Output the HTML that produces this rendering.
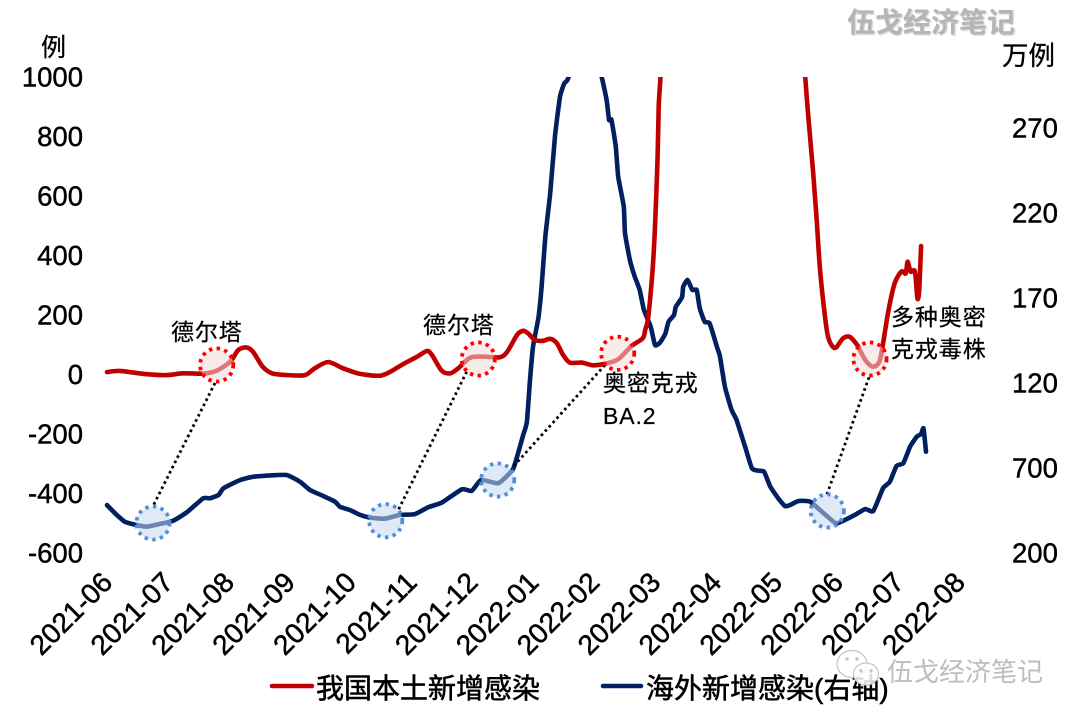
<!DOCTYPE html>
<html lang="zh-CN">
<head>
<meta charset="utf-8">
<title>我国本土与海外新增感染</title>
<style>
html,body{margin:0;padding:0;background:#fff;width:1080px;height:720px;overflow:hidden}
svg{display:block}
text{font-family:"Liberation Sans","Noto Sans CJK SC",sans-serif;fill:#000}
.tick{font-size:27.5px;stroke:#000;stroke-width:.45px}
.cat{font-size:28px;stroke:#000;stroke-width:.5px}
.note{font-size:23px;letter-spacing:.9px;stroke:#000;stroke-width:.25px}
.legend{font-size:28px;stroke:#000;stroke-width:.55px}
.unit{stroke:#000;stroke-width:.3px}
</style>
</head>
<body>
<svg id="chart" xmlns="http://www.w3.org/2000/svg" width="1080" height="720" viewBox="0 0 1080 720">
  <defs>
    <clipPath id="plot-clip"><rect x="0" y="77" width="1080" height="643"/></clipPath>
    <filter id="soft" x="-10%" y="-30%" width="120%" height="160%"><feGaussianBlur stdDeviation="0.9"/></filter>
  </defs>
  <g id="x-axis"></g>
  <g id="y-left"></g>
  <g id="y-right"></g>
  <text class="unit" x="41" y="56" font-size="25">例</text>
  <text class="unit" x="1002" y="65" font-size="26.5">万例</text>

  <g id="series" clip-path="url(#plot-clip)"></g>

  <g fill="none" stroke="#000" stroke-width="2.8" stroke-dasharray="2.6 3.2">
    <line x1="215" y1="383" x2="152.7" y2="506.7"/>
    <line x1="466.7" y1="371.7" x2="398.3" y2="510"/>
    <line x1="605" y1="365" x2="511.7" y2="468.3"/>
    <line x1="869" y1="377.3" x2="826.7" y2="495"/>
  </g>
  <g fill="#f2dcdb" fill-opacity=".55" stroke="#ff0000" stroke-width="3.8" stroke-dasharray="3.4 4.4">
    <circle cx="216.7" cy="365" r="16.6"/>
    <circle cx="478.3" cy="359" r="16.6"/>
    <circle cx="617.7" cy="353.3" r="16.6"/>
    <circle cx="870" cy="359" r="16.6"/>
  </g>
  <g fill="#c6d9f1" fill-opacity=".55" stroke="#4f8fdc" stroke-width="3.8" stroke-dasharray="3.4 4.4">
    <circle cx="153" cy="523" r="16.6"/>
    <circle cx="385.7" cy="520.7" r="16.6"/>
    <circle cx="497.7" cy="480" r="16.6"/>
    <circle cx="827.3" cy="511" r="16.6"/>
  </g>

  <text class="note" x="171" y="340">德尔塔</text>
  <text class="note" x="423" y="333">德尔塔</text>
  <text class="note" x="603" y="391">奥密克戎</text>
  <text class="note" x="603" y="424">BA.2</text>
  <text class="note" x="891" y="325">多种奥密</text>
  <text class="note" x="891" y="357">克戎毒株</text>

  <g>
    <line x1="272" y1="686" x2="312" y2="686" stroke="#c00000" stroke-width="4.5" stroke-linecap="round"/>
    <text class="legend" x="316" y="698">我国本土新增感染</text>
    <line x1="603" y1="686" x2="641" y2="686" stroke="#002060" stroke-width="4.5" stroke-linecap="round"/>
    <text class="legend" x="646" y="698">海外新增感染(右轴)</text>
  </g>

  <g>
    <text x="848" y="33" font-size="28" font-weight="700" style="fill:#999" opacity=".55" filter="url(#soft)">伍戈经济笔记</text>
    <text x="847" y="32" font-size="28" font-weight="700" style="fill:#b5b5b5">伍戈经济笔记</text>
  </g>

  <g>
    <g fill="#fff" fill-opacity=".85" stroke="#c4c4c4" stroke-width="1.2">
      <ellipse cx="852" cy="664" rx="15" ry="13.5"/>
      <ellipse cx="866" cy="674" rx="12.5" ry="11"/>
      <circle cx="847" cy="659" r="1.2" fill="#c4c4c4"/><circle cx="857" cy="659" r="1.2" fill="#c4c4c4"/>
      <circle cx="861" cy="671" r="1.1" fill="#c4c4c4"/><circle cx="871" cy="671" r="1.1" fill="#c4c4c4"/>
    </g>
    <text x="887" y="681" font-size="26" style="fill:#bdbdbd">伍戈经济笔记</text>
  </g>
</svg>
<script>
const monthLabels = ["2021-06","2021-07","2021-08","2021-09","2021-10","2021-11","2021-12","2022-01","2022-02","2022-03","2022-04","2022-05","2022-06","2022-07","2022-08"];
const leftTickValues = [-600,-400,-200,0,200,400,600,800,1000];
const rightTickValues = [200,700,1200,1700,2200,2700];
const rightTickLabels = ["200","700","120","170","220","270"];

const domesticMonths = [0,.21,.65,.98,1.24,1.57,1.79,2.01,2.14,2.27,2.38,2.54,2.69,2.94,3.23,3.39,3.61,3.85,4.13,4.45,4.62,4.83,5.06,5.22,5.30,5.46,5.60,5.73,5.92,6.13,6.41,6.53,6.69,6.79,6.87,6.98,7.11,7.23,7.34,7.44,7.55,7.75,7.93,8.16,8.34,8.56,8.74,8.78,8.83,8.90,8.94,8.98,9.00,9.03,9.10,9.20,9.50,10.4,11,11.20,11.32,11.39,11.44,11.52,11.58,11.63,11.70,11.76,11.84,11.90,12.01,12.12,12.26,12.28,12.39,12.50,12.60,12.66,12.75,12.85,12.96,13.03,13.06,13.11,13.18,13.22,13.25,13.28];
const domesticCases = [8,12,1,-2,4,3,13,43,82,91,77,26,4,-2,-2,21,42,21,2,-4,9,35,60,79,66,13,4,21,56,60,58,77,133,147,138,116,113,120,105,66,40,40,31,38,51,96,122,150,194,351,497,721,900,1001,1250,1700,4000,25000,4000,1600,1190,1001,867,677,509,358,217,129,93,92,122,126,93,82,43,26,43,105,217,307,346,340,379,346,346,256,284,432];

const overseasMonths = [0,.13,.29,.48,.65,.86,1.08,1.30,1.57,1.68,1.82,1.90,2.17,2.39,2.61,2.93,3.15,3.31,3.53,3.72,3.80,3.96,4.13,4.29,4.53,4.78,5.02,5.24,5.46,5.79,5.95,6.10,6.36,6.44,6.63,6.79,6.85,6.90,6.95,7.04,7.09,7.15,7.23,7.31,7.39,7.46,7.53,7.80,8.07,8.15,8.19,8.23,8.30,8.34,8.43,8.45,8.53,8.61,8.69,8.76,8.87,8.94,9.02,9.11,9.16,9.25,9.28,9.38,9.40,9.47,9.55,9.62,9.67,9.75,9.83,9.95,10.0,10.08,10.19,10.27,10.41,10.52,10.63,10.72,10.82,10.95,11.06,11.14,11.28,11.47,11.69,11.90,12.20,12.37,12.50,12.66,12.77,12.88,12.99,13.10,13.21,13.28,13.32,13.36];
const overseasCases = [482,434,384,365,355,371,390,439,522,522,541,581,629,649,655,659,619,571,535,502,472,453,424,408,402,424,428,469,496,575,565,629,610,624,698,894,972,1218,1413,1590,1766,2060,2316,2659,2884,2963,3000,3400,3000,2865,2747,2747,2590,2413,2237,2081,1923,1825,1747,1629,1531,1423,1437,1492,1560,1600,1649,1704,1766,1806,1747,1747,1639,1560,1551,1413,1355,1178,1041,982,825,698,684,678,590,522,476,482,506,502,434,375,424,459,447,581,619,712,728,825,884,900,933,796];

const NS = "http://www.w3.org/2000/svg";
const xScale = m => 107 + 61.3 * m;
const tickX = i => 114 + 60.9 * i;
const yLeft = v => 374.5 - 0.2975 * v;
const yRight = v => 553 - 0.17 * (v - 200);

const xAxis = document.getElementById("x-axis");
monthLabels.forEach((label, i) => {
  const t = document.createElementNS(NS, "text");
  const x = tickX(i);
  const y = 584;
  t.setAttribute("class", "cat");
  t.setAttribute("x", x);
  t.setAttribute("y", y);
  t.setAttribute("text-anchor", "end");
  t.setAttribute("transform", "rotate(-45 " + x + " " + y + ")");
  
  
  t.textContent = label;
  xAxis.appendChild(t);
});

const yl = document.getElementById("y-left");
leftTickValues.forEach(v => {
  const t = document.createElementNS(NS, "text");
  t.setAttribute("class", "tick");
  t.setAttribute("x", 83);
  t.setAttribute("y", yLeft(v) + 9.5);
  t.setAttribute("text-anchor", "end");
  
  
  t.textContent = String(v);
  yl.appendChild(t);
});

const yr = document.getElementById("y-right");
rightTickValues.forEach((v, i) => {
  const t = document.createElementNS(NS, "text");
  t.setAttribute("class", "tick");
  t.setAttribute("x", 1012);
  t.setAttribute("y", yRight(v) + 9.5);
  
  
  t.textContent = rightTickLabels[i];
  yr.appendChild(t);
});

function drawLine(months, values, yFn, color, k) {
  const pts = months.map((m, i) => [xScale(m), yFn(values[i])]);
  let d = "M" + pts[0][0].toFixed(1) + " " + pts[0][1].toFixed(1);
  for (let i = 0; i < pts.length - 1; i++) {
    const p0 = pts[Math.max(i - 1, 0)], p1 = pts[i], p2 = pts[i + 1], p3 = pts[Math.min(i + 2, pts.length - 1)];
    const c1x = p1[0] + (p2[0] - p0[0]) * k, c1y = p1[1] + (p2[1] - p0[1]) * k;
    const c2x = p2[0] - (p3[0] - p1[0]) * k, c2y = p2[1] - (p3[1] - p1[1]) * k;
    d += "C" + c1x.toFixed(1) + " " + c1y.toFixed(1) + " " + c2x.toFixed(1) + " " + c2y.toFixed(1) + " " + p2[0].toFixed(1) + " " + p2[1].toFixed(1);
  }
  const p = document.createElementNS(NS, "path");
  p.setAttribute("d", d);
  p.setAttribute("fill", "none");
  p.setAttribute("stroke", color);
  p.setAttribute("stroke-width", "4.6");
  p.setAttribute("stroke-linejoin", "round");
  p.setAttribute("stroke-linecap", "round");
  return p;
}
const series = document.getElementById("series");
const overseasLine = drawLine(overseasMonths, overseasCases, yRight, "#002060", 0.08);


series.appendChild(overseasLine);
const domesticLine = drawLine(domesticMonths, domesticCases, yLeft, "#c00000", 0.14);


series.appendChild(domesticLine);
</script>
</body>
</html>
